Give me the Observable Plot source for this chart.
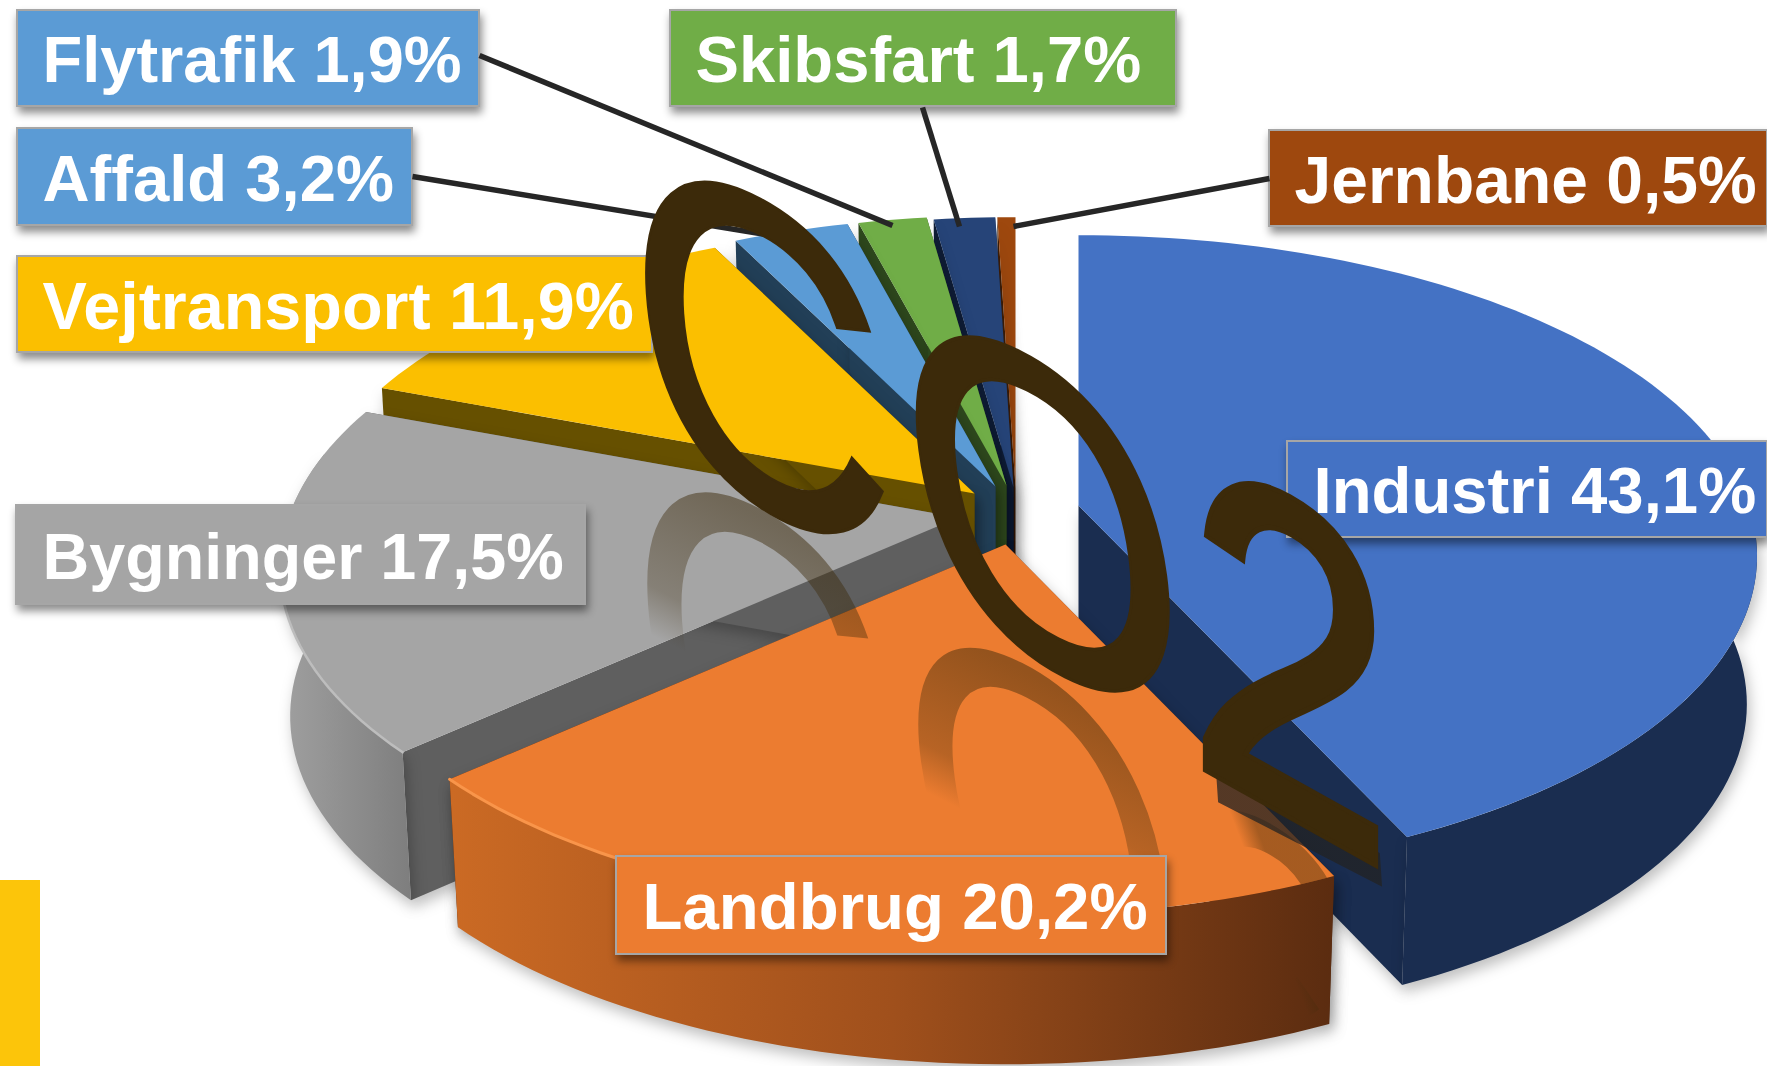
<!DOCTYPE html>
<html>
<head>
<meta charset="utf-8">
<style>html,body{margin:0;padding:0;background:#fff}svg{display:block}</style>
<script src="https://cdn.jsdelivr.net/npm/d3@7"></script>
<script src="https://cdn.jsdelivr.net/npm/@observablehq/plot@0.6"></script>
</head>
<body>
<div id="chart"></div>
<script>
// ---- values
const categories = ["Industri","Landbrug","Bygninger","Vejtransport","Affald","Flytrafik","Skibsfart","Jernbane"];
const shares     = [43.1,20.2,17.5,11.9,3.2,1.9,1.7,0.5];
const topColors  = ["#4472c4","#ec7c30","#a5a5a5","#fbbf00","#5b9bd5","#70ad47","#264478","#9e480e"];
const wallColors = ["#1a2d50","#5b2c10","#5f5f5f","#665000","#223f57","#2e481d","#0f1d37","#3f1d06"];
const sideFills  = ["#1a2d50","url(#sideOrange)","url(#sideGray)","#665000","#223f57","#2e481d","#0f1d37","#3f1d06"];
const labelFills = ["#4472c4","#ec7c30","#a5a5a5","#fbbf00","#5b9bd5","#5b9bd5","#70ad47","#9e480e"];
// exploded apex of every slice, in picture pixels
const apexX = [1078,1005,958,974,995,1006,1013,1015];
const apexY = [505,544,517,493,486,485,487,487];
// label boxes
const boxX1 = [1287,616,16,17,17,17,670,1269];
const boxX2 = [1767,1166,585,652,412,479,1176,1767];
const boxY1 = [441,856,505,256,128,10,10,130];
const boxY2 = [537,954,604,352,225,106,106,226];
const labelSizes = [65.3,65.4,64.7,66.5,65.2,65,65.2,66];
const labelPads  = [26,26,26,25,25,25,25,25];
// leader lines
const leaderFrom = ["Affald","Flytrafik","Skibsfart","Jernbane"];
const leaderX1 = [412,479,922,1269];
const leaderY1 = [176,55,107,178];
const leaderX2 = [783,892,959,1013];
const leaderY2 = [237,225,226,226];
// the CO2 word art
const glyphs = ["C","O","2"];
const glyphX = [760,1044,1290];
const glyphY = [364,525,670];
const glyphM = [[3.6,1.85,0.3,4.5],[3.57,1.79,0.6,4.54],[3.67,2.05,0,4.53]];
const glyphStroke = [1.2,1.4,2.2];
const reflectionDX = [0,0,-15];
const reflectionDY = [309,309,320];
// view geometry of the tilted pie
const A = 670, B = 313, P = 0.158, depth = 148, shrink = 0.985;

const W = 1767, H = 1066;
const rad = d => d * Math.PI / 180;
function offset(deg){
  const u = Math.sin(rad(deg)), v = -Math.cos(rad(deg)), den = 1 - P * v;
  return [A * u / den, B * v / den];
}
const total = d3.sum(shares);
let cum = 0;
const slices = categories.map((name,i)=>{
  const a0 = cum / total * 360; cum += shares[i]; const a1 = cum / total * 360;
  return {name,i,a0,a1,ax:apexX[i],ay:apexY[i]};
});
function arc(s, lo = s.a0, hi = s.a1){
  const n = Math.max(2, Math.ceil((hi - lo) / 1.5)), out = [];
  for (let k = 0; k <= n; k++) out.push(lo + (hi - lo) * k / n);
  return out;
}
const topPt = (s,d)=>{const [dx,dy]=offset(d);return {x:s.ax+dx,y:s.ay+dy};};
const botPt = (s,d)=>{const [dx,dy]=offset(d);return {x:s.ax+dx*shrink,y:s.ay+dy+depth};};
const apexT = s=>({x:s.ax,y:s.ay}), apexB = s=>({x:s.ax,y:s.ay+depth});
// the outer rim only faces the viewer over the front of the pie
const rimFrom = 80, rimTo = 282;
function rimOf(s){
  const lo = Math.max(s.a0,rimFrom), hi = Math.min(s.a1,rimTo);
  if (hi <= lo) return null;
  const as = arc(s,lo,hi);
  return [...as.map(d=>topPt(s,d)), ...as.slice().reverse().map(d=>botPt(s,d))];
}

const styled = css => function(index,scales,values,dims,context,next){
  const g = next(index,scales,values,dims,context);
  Object.assign(g.style, css);
  return g;
};
const poly = (pts,fill,extra={}) => Plot.line(pts,{x:"x",y:"y",fill,stroke:"none",curve:"linear",...extra});

const marks = [];
// yellow bar at the edge of the slide
marks.push(Plot.rect([0],{x1:()=>0,x2:()=>40,y1:()=>880,y2:()=>1066,fill:"#fcc50a"}));

// paint back to front
const order = [7,6,5,4,3,2,0,1];
const sideShadow = {filter:"drop-shadow(3px 7px 7px rgba(0,0,0,.25))"};
for (const i of order){
  const s = slices[i], as = arc(s);
  // the two cut faces
  for (const d of [s.a0,s.a1]){
    marks.push(poly([apexT(s),topPt(s,d),botPt(s,d),apexB(s)], wallColors[i], {render: styled(sideShadow)}));
  }
  // outer rim
  const rim = rimOf(s);
  if (rim) marks.push(poly(rim, sideFills[i], {render: styled(sideShadow)}));
  // top
  marks.push(poly([apexT(s),...as.map(d=>topPt(s,d))], topColors[i]));
  // soft bevel highlight on the rim
  if (i===1) marks.push(Plot.line(as.filter(d=>d>195).map(d=>topPt(s,d)),{x:"x",y:"y",stroke:"#f9954a",strokeWidth:3}));
  if (i===2) marks.push(Plot.line(as.filter(d=>d<262).map(d=>topPt(s,d)),{x:"x",y:"y",stroke:"#bdbdbd",strokeWidth:2.5}));
}

// word-art helpers
const letterTransform = (list,clip) => function(index,scales,values,dims,context,next){
  const g = next(index,scales,values,dims,context);
  d3.select(g).selectAll("text").each(function(_,k){
    const m = list[index[k]];
    this.setAttribute("transform", `${this.getAttribute("transform")||""} matrix(${m[0]},${m[1]},${m[2]},${m[3]},0,0)`);
    this.setAttribute("stroke-linejoin","miter");
  });
  if (clip) g.setAttribute("clip-path",`url(#${clip})`);
  return g;
};
const letterFont = {fontFamily:"Liberation Sans",fontSize:100,textAnchor:"middle",lineAnchor:"middle"};
const gi = glyphs.map((_,i)=>i);
// reflections
marks.push(Plot.text([0,1],{x:i=>glyphX[i]+reflectionDX[i],y:i=>glyphY[i]+reflectionDY[i],text:i=>glyphs[i],...letterFont,fill:"url(#reflect)",render:letterTransform(glyphM)}));
marks.push(Plot.text([2],{x:i=>glyphX[i]+reflectionDX[i],y:i=>glyphY[i]+reflectionDY[i],text:i=>glyphs[i],...letterFont,fill:"url(#reflect2)",render:letterTransform(glyphM,"orangeClip")}));
marks.push(Plot.text([2],{x:i=>glyphX[i],y:i=>glyphY[i]+30,text:i=>glyphs[i],...letterFont,fill:"url(#reflectBase)",render:letterTransform(glyphM)}));

// label boxes
const cats = d3.range(categories.length);
marks.push(Plot.rect(cats,{x1:i=>boxX1[i],x2:i=>boxX2[i],y1:i=>boxY1[i],y2:i=>boxY2[i],
  fill:i=>labelFills[i],stroke:"#a6a6a6",strokeWidth:2,
  render:function(index,scales,values,dims,context,next){
    const g = next(index,scales,values,dims,context);
    d3.select(g).selectAll("rect").style("filter","drop-shadow(2px 6px 4px rgba(0,0,0,.45))");
    return g;
  }}));
marks.push(Plot.text(cats,{x:i=>boxX1[i]+labelPads[i],y:i=>(boxY1[i]+boxY2[i])/2+3,
  text:i=>`${categories[i]} ${shares[i].toFixed(1).replace(".",",")}%`,
  textAnchor:"start",lineAnchor:"middle",fontFamily:"Liberation Sans",fontWeight:"bold",fontSize:i=>labelSizes[i],fill:"#fff"}));
// leaders
marks.push(Plot.link(leaderFrom,{x1:(_,i)=>leaderX1[i],y1:(_,i)=>leaderY1[i],x2:(_,i)=>leaderX2[i],y2:(_,i)=>leaderY2[i],stroke:"#262626",strokeWidth:5.5,curve:"linear"}));
// the letters themselves
marks.push(Plot.text(gi,{x:i=>glyphX[i],y:i=>glyphY[i],text:i=>glyphs[i],...letterFont,fill:"#3c2a0a",stroke:"#3c2a0a",strokeWidth:i=>glyphStroke[i],render:letterTransform(glyphM)}));

const svg = Plot.plot({
  width:W,height:H,margin:0,
  x:{domain:[0,W],range:[0,W],axis:null},
  y:{domain:[0,H],range:[0,H],axis:null},
  style:{background:"#fff"},
  marks
});
const defs = d3.select(svg).insert("defs",":first-child");
function grad(id,stops,p){
  const g = defs.append("linearGradient").attr("id",id).attr("x1",p[0]).attr("y1",p[1]).attr("x2",p[2]).attr("y2",p[3]);
  for (const [o,c,a] of stops) g.append("stop").attr("offset",o).attr("stop-color",c).attr("stop-opacity",a);
}
grad("sideOrange",[[0,"#cb6a24",1],[0.5,"#a0501c",1],[1,"#5b2c10",1]],[0,0,1,0]);
grad("sideGray",[[0,"#a0a0a0",1],[1,"#7e7e7e",1]],[0,0,1,0]);
grad("reflect",[[0.2,"#3c2a0a",0.5],[0.46,"#3c2a0a",0.3],[0.56,"#3c2a0a",0]],[0,0,0,1]);
grad("reflect2",[[0.12,"#3c2a0a",0],[0.25,"#3c2a0a",0.4],[1,"#3c2a0a",0.4]],[0,0,0.5,-0.5]);
grad("reflectBase",[[0.7,"#222",0],[0.72,"#222",0.75],[1,"#222",0.75]],[0,0,0,1]);
// the reflection of the 2 only shows on the orange slice
const ls = slices[1], topArc = arc(ls).map(d=>topPt(ls,d));
const clipPts = [apexT(ls),...topArc,...arc(ls).reverse().map(d=>botPt(ls,d))];
defs.append("clipPath").attr("id","orangeClip").append("polygon").attr("points",clipPts.map(p=>`${p.x},${p.y}`).join(" "));
document.getElementById("chart").appendChild(svg);
</script>
</body>
</html>
